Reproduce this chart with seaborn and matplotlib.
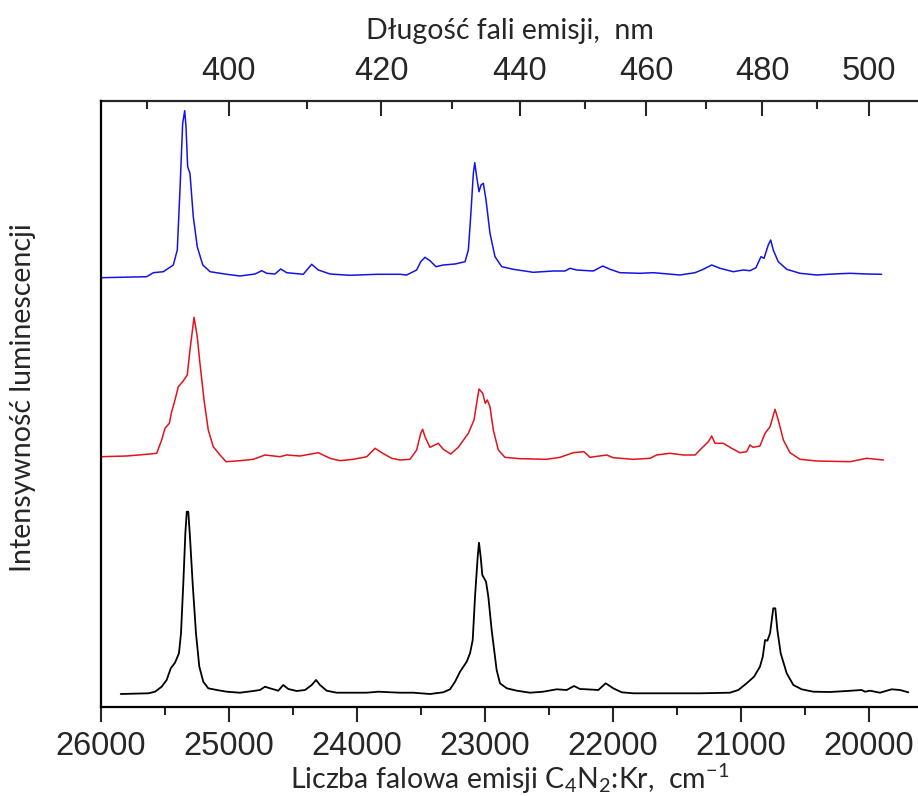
import numpy as np
import pandas as pd
import matplotlib
matplotlib.use("Agg")
import matplotlib.pyplot as plt
import seaborn as sns

# values (wavenumber in cm-1, intensity in arbitrary units)
black_wn = [25846, 25630, 25578, 25526, 25487, 25455, 25422, 25391, 25375, 25357, 25341, 25330,
            25318, 25305, 25284, 25258, 25232, 25201, 25162, 25096, 25018, 24914, 24810, 24758,
            24719, 24680, 24615, 24576, 24537, 24471, 24406, 24354, 24320, 24289, 24237, 24159,
            23924, 23834, 23664, 23560, 23430, 23326, 23273, 23234, 23195, 23143, 23117, 23096,
            23078, 23057, 23047, 23034, 23021, 22992, 22974, 22948, 22909, 22883, 22830, 22752,
            22648, 22545, 22440, 22362, 22305, 22258, 22206, 22115, 22057, 21998, 21932, 21841,
            21320, 21086, 21021, 20956, 20898, 20852, 20830, 20812, 20794, 20773, 20748, 20732,
            20716, 20690, 20643, 20591, 20526, 20435, 20305, 20174, 20057, 20031, 19992, 19914,
            19823, 19758, 19693]
black_int = [13, 13.7, 15.3, 20.3, 27, 38.7, 44.3, 53.7, 73.7, 123.7, 173.7, 195.3,
             195.3, 170.3, 123.7, 73.7, 40.3, 25.3, 18.7, 17, 15.3, 14.3, 16, 17,
             20.3, 18.7, 16.3, 22, 18, 16, 17, 22, 27, 22, 16.3, 14.3,
             14.3, 15.3, 14.3, 14.3, 13, 14.7, 17.7, 25.3, 35.3, 45.3, 53.7, 67,
             110.3, 150.3, 164.3, 150.3, 132, 125.3, 110.3, 77, 37, 23.7, 18.7, 16.3,
             14.3, 15.3, 17.7, 17, 21, 18, 17.7, 17, 23.7, 18.7, 14.7, 13.7,
             13.7, 14.3, 17, 23.7, 30.3, 40.3, 50.3, 67, 66.3, 73.7, 98.7, 98.7,
             77, 53.7, 33.7, 22, 17.7, 15.3, 15, 16, 17, 15.3, 16.3, 14.3,
             17.7, 17, 14.7]

red_wn = [25995, 25799, 25617, 25565, 25526, 25500, 25466, 25448, 25422, 25396, 25362, 25326,
          25305, 25273, 25248, 25227, 25195, 25162, 25123, 25070, 25023, 24914, 24810, 24719,
          24602, 24549, 24445, 24302, 24211, 24133, 24029, 23924, 23859, 23807, 23729, 23664,
          23586, 23534, 23502, 23487, 23469, 23430, 23365, 23326, 23268, 23209, 23130, 23086,
          23065, 23047, 23018, 22998, 22982, 22961, 22935, 22896, 22844, 22727, 22518, 22414,
          22310, 22227, 22180, 22049, 21998, 21841, 21711, 21659, 21555, 21451, 21359, 21295,
          21255, 21229, 21203, 21138, 21073, 21008, 20956, 20930, 20904, 20852, 20812, 20773,
          20734, 20709, 20669, 20617, 20539, 20409, 20148, 20018, 19888]
red_int = [250.3, 251, 253, 253.7, 267, 278.7, 283.7, 295.3, 307, 320.3, 325.3, 332,
           357, 389.7, 370.3, 343.7, 307, 277, 260.3, 252, 245.3, 246.3, 247.7, 252,
           250.3, 252, 251, 254.3, 248.7, 246.3, 247.7, 250.3, 258.7, 254.3, 248.7, 247,
           247.7, 257, 273.7, 277.7, 270.3, 259.7, 263.7, 257.7, 253, 259.7, 273.7, 287,
           303.7, 318, 313.7, 303.7, 307, 300.3, 277, 257, 249.7, 248.3, 247.7, 249.7,
           254.3, 255.3, 249.7, 252, 249.3, 247.7, 248.7, 252, 253.7, 252, 252, 260.3,
           265.3, 271, 263.7, 263.7, 258.7, 254.3, 255.3, 262, 259.7, 261, 273.7, 280.3,
           297.7, 287, 267, 254.3, 247.7, 246, 245.3, 248.7, 247]

blue_wn = [25995, 25643, 25591, 25513, 25435, 25404, 25383, 25362, 25346, 25336, 25323, 25305,
           25279, 25248, 25205, 25148, 25018, 24914, 24797, 24744, 24705, 24641, 24596, 24549,
           24420, 24354, 24302, 24211, 24055, 23846, 23664, 23612, 23534, 23502, 23469, 23430,
           23383, 23326, 23234, 23156, 23130, 23112, 23091, 23080, 23065, 23047, 23031, 23013,
           22992, 22961, 22922, 22869, 22779, 22623, 22466, 22375, 22336, 22284, 22154, 22080,
           22023, 21945, 21789, 21685, 21477, 21359, 21295, 21229, 21164, 21060, 20982, 20930,
           20883, 20844, 20820, 20787, 20768, 20748, 20709, 20643, 20539, 20409, 20279, 20148,
           20018, 19901]
blue_int = [429.3, 430.3, 434.3, 435.3, 442, 457, 517, 583.7, 596.3, 580.3, 540.3, 533.7,
            490.3, 460.3, 442, 435.3, 432.7, 431, 433, 436.3, 433.7, 433, 438, 434.3,
            432.7, 442.7, 437, 433, 431.7, 432.7, 432.7, 432, 437, 445.3, 449.7, 446.3,
            440.3, 442, 443, 445.3, 457, 490.3, 533.7, 544.3, 530.3, 515.3, 522, 523.7,
            507, 473.7, 450.3, 440.3, 437.7, 434.7, 436, 436, 438.7, 437, 436, 441,
            437.7, 434.3, 433.7, 434.3, 432, 434.3, 437.7, 442, 438.7, 435.3, 437, 436.3,
            439.3, 450.3, 448.7, 462, 467, 457, 445.3, 437.7, 433.7, 432, 433, 433.7,
            433, 432.7]

nm_ticks = [400, 420, 440, 460, 480, 500]
nm_minor = [390, 410, 430, 450, 470, 490, 510]
wn_ticks = [26000, 25000, 24000, 23000, 22000, 21000, 20000]

sns.set_style("white")
plt.rcParams["font.family"] = ["Liberation Sans", "DejaVu Sans"]
plt.rcParams["mathtext.default"] = "regular"

fig = plt.figure(figsize=(9.18, 7.96), dpi=100)
ax = fig.add_axes([101 / 918, 89 / 796, 817 / 918, 606 / 796])

sns.lineplot(x=black_wn, y=black_int, color="black", lw=1.3, sort=False, estimator=None, ax=ax)
sns.lineplot(x=red_wn, y=red_int, color="#e3121b", lw=1.1, sort=False, estimator=None, ax=ax)
sns.lineplot(x=blue_wn, y=blue_int, color="#1414e6", lw=1.1, sort=False, estimator=None, ax=ax)

ax.set_xlim(26000, 26000 - 817 / 0.128)
ax.set_ylim(0, 606)
ax.set_yticks([])
ax.set_xticks(wn_ticks)
ax.set_xticks(np.arange(25500, 19500, -1000), minor=True)
ax.tick_params(axis="x", which="major", direction="out", length=11, width=1.5,
               labelsize=23.5, pad=6, bottom=True)
ax.tick_params(axis="x", which="minor", direction="out", length=6, width=1.5, bottom=True)

for side in ["left", "bottom"]:
    ax.spines[side].set_linewidth(1.6)
    ax.spines[side].set_color("black")
ax.spines["right"].set_visible(False)
ax.spines["top"].set_visible(False)

conv = lambda v: 1e7 / np.maximum(v, 1e-6)
top = ax.secondary_xaxis("top", functions=(conv, conv))
top.set_xticks(nm_ticks)
top.set_xticks(nm_minor, minor=True)
top.spines["top"].set_linewidth(1.6)
top.tick_params(axis="x", which="major", direction="in", length=11, width=1.5,
                labelsize=23.5, pad=10)
top.tick_params(axis="x", which="minor", direction="in", length=6, width=1.5)

label_font = dict(family="Lato", size=20.5)
ax.set_xlabel("Liczba falowa emisji C$_4$N$_2$:Kr,  cm$^{-1}$", labelpad=0, **label_font)
top.set_xlabel("Długość fali emisji,  nm", labelpad=12, **label_font)
ax.set_ylabel("Intensywność luminescencji", **label_font)
ax.yaxis.set_label_coords(-0.079, 0.51)

fig.savefig("out.png", dpi=100)
